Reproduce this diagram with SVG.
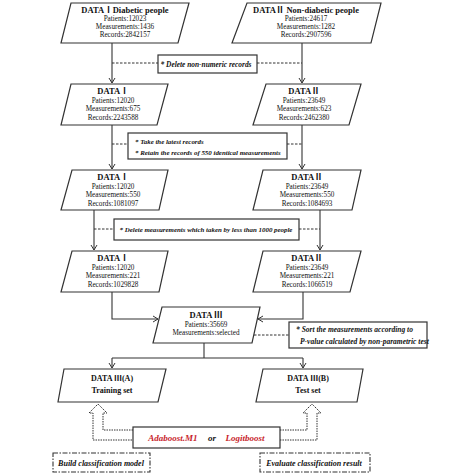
<svg xmlns="http://www.w3.org/2000/svg" width="474" height="474" viewBox="0 0 474 474">
<defs>
<marker id="arr" markerWidth="8" markerHeight="8" refX="6" refY="4" orient="auto" markerUnits="userSpaceOnUse">
<path d="M1,1 L6,4 L1,7" fill="none" stroke="#333" stroke-width="1"/>
</marker>
<style>
.box{fill:#fff;stroke:#333;stroke-width:1.2}
.note{fill:#fff;stroke:#333;stroke-width:1.2}
.ln{fill:none;stroke:#333;stroke-width:1.1}
.dash{fill:none;stroke:#333;stroke-width:1;stroke-dasharray:2.5 1.5}
.hollow{fill:#fff;stroke:#333;stroke-width:1;stroke-dasharray:1.5 1}
.dd{fill:#fff;stroke:#333;stroke-width:1.1;stroke-dasharray:5 1.5 1.5 1.5}
text{font-family:"Liberation Serif","Noto Sans CJK SC",serif;fill:#111;text-anchor:middle}
.t{font-size:8.5px;font-weight:bold}
.s{font-size:8px;font-weight:bold}
.b{font-size:7.2px}
.n{font-weight:bold;font-style:italic}
.nl{font-weight:bold;font-style:italic;text-anchor:start}
.alg{font-size:9px;font-weight:bold;font-style:italic}
.red{fill:#c81e2c}
</style>
</defs>

<g id="connectors">
<path class="ln" d="M112,43 V83" marker-end="url(#arr)"/>
<path class="ln" d="M302,43 V83" marker-end="url(#arr)"/>
<path class="ln" d="M112,125 V169" marker-end="url(#arr)"/>
<path class="ln" d="M302,125 V169" marker-end="url(#arr)"/>
<path class="ln" d="M94,210 V250" marker-end="url(#arr)"/>
<path class="ln" d="M320,210 V250" marker-end="url(#arr)"/>
<path class="ln" d="M112,292 V319 H158" marker-end="url(#arr)"/>
<path class="ln" d="M303,292 V319 H258" marker-end="url(#arr)"/>
<path class="ln" d="M204,343 V358"/>
<path class="ln" d="M112,358 H303"/>
<path class="ln" d="M112,358 V368" marker-end="url(#arr)"/>
<path class="ln" d="M303,358 V368" marker-end="url(#arr)"/>
<path class="dash" d="M112,63 H158 M257,63 H302"/>
<path class="dash" d="M112,144 H128 M287,144 H302"/>
<path class="dash" d="M94,229 H114 M299,229 H320"/>
<path class="dash" d="M254,335 H289"/>
<path class="hollow" d="M133,430 H103 V413 H107 L98,404 L89,413 H93 V440 H133"/>
<path class="hollow" d="M280,430 H307 V413 H303 L312,404 L321,413 H317 V440 H280"/>
</g>

<g id="data1">
<polygon class="box" points="71,3 189,3 178,43 61,43"/>
<text class="t" x="125" y="13">DATAⅠDiabetic people</text>
<text class="b" x="125" y="21">Patients:12023</text>
<text class="b" x="125" y="29">Measurements:1436</text>
<text class="b" x="125" y="37">Records:2842157</text>
</g>
<g id="data2">
<polygon class="box" points="247,3 381,3 371,43 232,43"/>
<text class="t" x="306" y="13">DATAⅡ  Non-diabetic people</text>
<text class="b" x="306" y="21">Patients:24617</text>
<text class="b" x="306" y="29">Measurements:1282</text>
<text class="b" x="306" y="37">Records:2907596</text>
</g>
<g id="note1">
<rect class="note" x="158" y="55" width="99" height="18"/>
<text class="n" x="206" y="66.5" font-size="7.4px">* Delete non-numeric records</text>
</g>
<g id="data3">
<polygon class="box" points="71,84 168,84 157,125 61,125"/>
<text class="t" x="113" y="94">DATAⅠ</text>
<text class="b" x="113" y="102.5">Patients:12020</text>
<text class="b" x="113" y="111">Measurements:675</text>
<text class="b" x="113" y="119.5">Records:2243588</text>
</g>
<g id="data4">
<polygon class="box" points="266,84 361,84 349,125 253,125"/>
<text class="t" x="304" y="94">DATAⅡ</text>
<text class="b" x="304" y="102.5">Patients:23649</text>
<text class="b" x="304" y="111">Measurements:623</text>
<text class="b" x="304" y="119.5">Records:2462380</text>
</g>
<g id="note2">
<rect class="note" x="128" y="133" width="159" height="26"/>
<text class="nl" x="135" y="143.5" font-size="6.9px">* Take the latest records</text>
<text class="nl" x="135" y="155" font-size="6.9px">* Retain the records of 550 identical measurements</text>
</g>
<g id="data5">
<polygon class="box" points="72,170 168,170 159,210 61,210"/>
<text class="t" x="113" y="180">DATAⅠ</text>
<text class="b" x="113" y="188.5">Patients:12020</text>
<text class="b" x="113" y="197">Measurements:550</text>
<text class="b" x="113" y="205.5">Records:1081097</text>
</g>
<g id="data6">
<polygon class="box" points="263,170 361,170 352,210 253,210"/>
<text class="t" x="307" y="180">DATAⅡ</text>
<text class="b" x="307" y="188.5">Patients:23649</text>
<text class="b" x="307" y="197">Measurements:550</text>
<text class="b" x="307" y="205.5">Records:1084693</text>
</g>
<g id="note3">
<rect class="note" x="114" y="219" width="185" height="21"/>
<text class="n" x="206" y="232" font-size="6.9px">* Delete measurements which taken by less than 1000 people</text>
</g>
<g id="data7">
<polygon class="box" points="72,251 168,251 159,292 61,292"/>
<text class="t" x="113" y="261">DATAⅠ</text>
<text class="b" x="113" y="269.5">Patients:12020</text>
<text class="b" x="113" y="278">Measurements:221</text>
<text class="b" x="113" y="286.5">Records:1029828</text>
</g>
<g id="data8">
<polygon class="box" points="263,251 361,251 350,292 253,292"/>
<text class="t" x="307" y="261">DATAⅡ</text>
<text class="b" x="307" y="269.5">Patients:23649</text>
<text class="b" x="307" y="278">Measurements:221</text>
<text class="b" x="307" y="286.5">Records:1066519</text>
</g>
<g id="data9">
<polygon class="box" points="162,307 260,307 252,343 153,343"/>
<text class="t" x="206" y="318">DATA  Ⅲ</text>
<text class="b" x="206" y="326.5">Patients:35669</text>
<text class="b" x="206" y="335">Measurements:selected</text>
</g>
<g id="note4">
<rect class="note" x="289" y="322" width="138" height="26"/>
<text class="nl" x="296" y="331.5" font-size="7.5px">* Sort the measurements according to</text>
<text class="nl" x="300" y="344" font-size="7.5px">P-value calculated by non-parametric test</text>
</g>
<g id="data10">
<polygon class="box" points="64,369 166,369 158,402 58,402"/>
<text class="s" x="112" y="381">DATA  Ⅲ(A)</text>
<text class="s" x="112" y="392.5">Training set</text>
</g>
<g id="data11">
<polygon class="box" points="263,369 363,369 357,402 256,402"/>
<text class="s" x="308" y="381">DATA  Ⅲ(B)</text>
<text class="s" x="308" y="392.5">Test set</text>
</g>
<g id="algorithm">
<rect class="note" x="133" y="427" width="147" height="21"/>
<text class="alg red" x="173" y="441">Adaboost.M1</text>
<text class="alg" x="212" y="441">or</text>
<text class="alg red" x="245" y="441">Logitboost</text>
</g>
<g id="build">
<rect class="dd" x="53" y="453" width="97" height="19"/>
<text class="n" x="101" y="466" font-size="8px">Build classification model</text>
</g>
<g id="evaluate">
<rect class="dd" x="260" y="453" width="110" height="19"/>
<text class="n" x="314" y="466" font-size="8px">Evaluate classification result</text>
</g>
</svg>
